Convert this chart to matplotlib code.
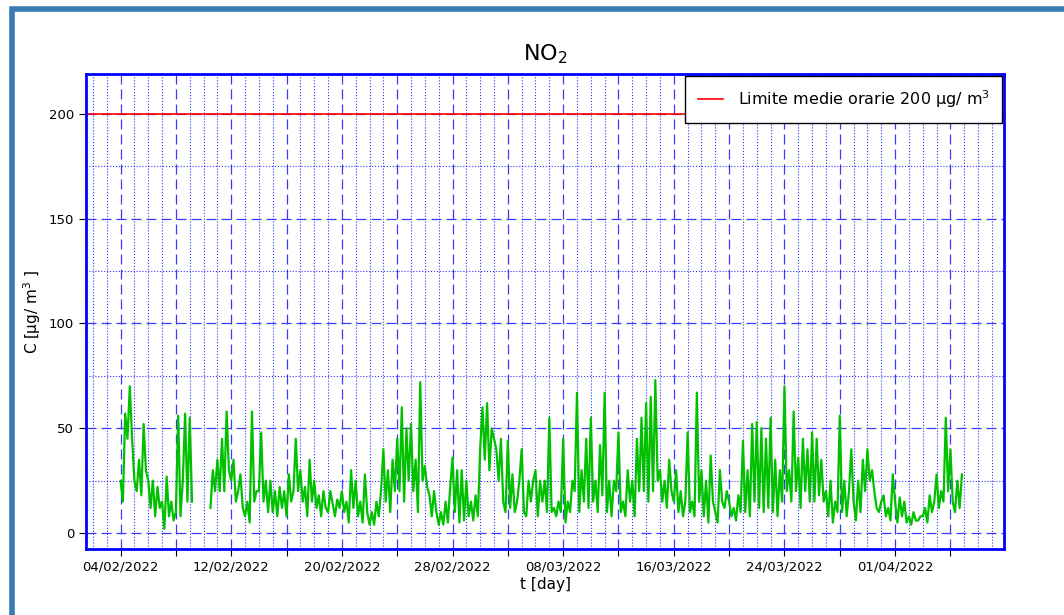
import numpy as np
import pandas as pd
import matplotlib
matplotlib.use('Agg')
import matplotlib.pyplot as plt
from matplotlib.patches import Rectangle
from matplotlib.ticker import MultipleLocator

nan = np.nan
# valori NO2 stimati ogni 4 ore, dal 04/02/2022 00:00 (una riga = un giorno)
daily_values = [
    [25, 15, 57, 45, 70, 45], [25, 20, 35, 18, 52, 30], [25, 12, 25, 8, 22, 12],
    [15, 2, 27, 8, 15, 6], [10, 56, 8, 25, 57, 15], [55, 15, nan, nan, nan, nan],
    [nan, nan, nan, 12, 30, 20], [35, 20, 45, 20, 58, 30], [25, 35, 15, 20, 28, 12],
    [8, 15, 5, 58, 15, 20], [20, 48, 15, 25, 10, 25], [10, 20, 8, 22, 12, 20],
    [8, 28, 15, 20, 45, 20], [30, 15, 22, 8, 35, 15], [25, 12, 18, 8, 20, 12],
    [10, 20, 14, 8, 16, 12], [20, 10, 15, 5, 30, 12], [25, 8, 15, 5, 28, 10],
    [4, 10, 4, 15, 8, 20], [40, 15, 30, 10, 35, 20], [45, 20, 60, 15, 50, 25],
    [52, 20, 35, 10, 72, 25], [32, 22, 18, 8, 20, 10], [4, 10, 4, 15, 5, 22],
    [36, 10, 30, 5, 30, 6], [25, 8, 15, 6, 18, 8], [40, 60, 35, 62, 30, 50],
    [45, 40, 25, 45, 15, 10], [44, 12, 28, 10, 15, 25], [40, 10, 8, 25, 15, 25],
    [30, 8, 25, 15, 25, 10], [55, 10, 12, 8, 15, 10], [45, 5, 15, 10, 25, 20],
    [67, 10, 30, 15, 45, 12], [55, 15, 25, 10, 42, 18], [67, 10, 25, 8, 25, 20],
    [48, 10, 15, 8, 30, 15], [25, 8, 45, 20, 55, 20], [62, 15, 65, 20, 73, 25],
    [30, 15, 25, 12, 35, 20], [15, 30, 10, 20, 8, 15], [48, 10, 15, 8, 67, 15],
    [30, 8, 25, 5, 37, 15], [10, 5, 30, 15, 12, 20], [15, 8, 12, 6, 18, 10],
    [44, 10, 30, 8, 52, 15], [53, 12, 50, 10, 45, 12], [55, 10, 35, 8, 30, 15],
    [70, 20, 30, 15, 58, 20], [36, 12, 45, 20, 40, 15], [48, 15, 45, 18, 35, 15],
    [20, 8, 25, 5, 15, 10], [56, 10, 25, 8, 20, 40], [15, 6, 25, 10, 35, 20],
    [40, 25, 30, 20, 12, 10], [15, 18, 8, 12, 6, 28], [15, 5, 17, 8, 15, 5],
    [8, 4, 10, 6, 6, 8], [8, 12, 5, 18, 10, 15], [28, 12, 20, 15, 55, 20],
    [40, 15, 10, 25, 12, 28],
]
limit_value = 200
values = np.array(daily_values, dtype=float).ravel()
times = pd.date_range('2022-02-04 00:00', periods=len(values), freq='4h')
major_days = pd.date_range('2022-02-04', '2022-04-08', freq='4D')
minor_days = pd.date_range('2022-02-02', '2022-04-08', freq='1D')

fig = plt.figure(figsize=(10.64, 6.15), dpi=100)
fig.patches.append(Rectangle((12 / 1064, -0.1), 1.2, 1.085, transform=fig.transFigure,
                             fill=False, edgecolor='#3a7ab5', linewidth=4))
ax = fig.add_axes([86 / 1064, 1 - 549 / 615, 918 / 1064, 475 / 615])

ax.plot(times, values, color='#00c000', linewidth=1.6)
ax.axhline(limit_value, color='red', linewidth=1.2,
           label='Limite medie orarie 200 µg/ m$^3$')

ax.set_xlim(pd.Timestamp('2022-02-01 12:00'), pd.Timestamp('2022-04-08 21:00'))
ax.set_ylim(-7.6, 219)

ax.set_xticks(major_days)
ax.set_xticks(minor_days, minor=True)
ax.set_xticklabels([d.strftime('%d/%m/%Y') if i % 2 == 0 else ''
                    for i, d in enumerate(major_days)])
ax.yaxis.set_major_locator(MultipleLocator(50))
ax.yaxis.set_minor_locator(MultipleLocator(25))

ax.grid(which='major', color='#3a3aff', linestyle=(0, (8, 4)), linewidth=0.9)
ax.grid(which='minor', color='blue', linestyle=':', linewidth=0.8, alpha=0.8)
ax.tick_params(which='minor', length=0)
ax.tick_params(which='major', labelsize=9.5, length=5)
for s in ax.spines.values():
    s.set_color('blue')
    s.set_linewidth(2)

ax.set_title('NO$_2$', fontsize=16, pad=10)
ax.set_xlabel('t [day]', fontsize=11, labelpad=2)
ax.set_ylabel('C [µg/ m$^3$ ]', fontsize=11)

ax.legend(loc='upper right', fontsize=11.5, fancybox=False, framealpha=1,
          edgecolor='black', borderaxespad=0.1, borderpad=0.8,
          handlelength=1.6, handletextpad=0.9)

fig.savefig('out.png', dpi=100)
